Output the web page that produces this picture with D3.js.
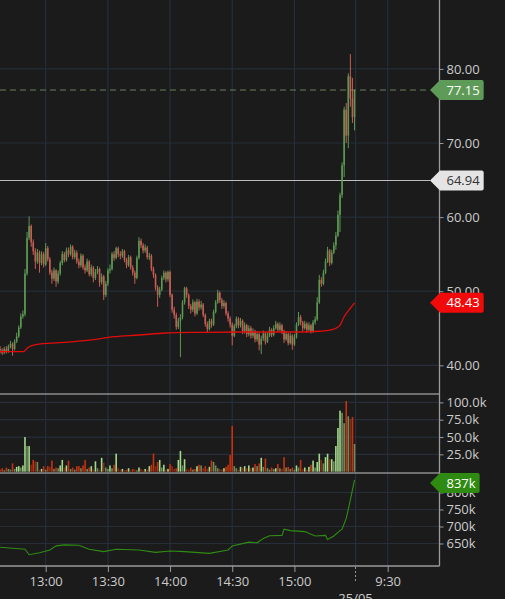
<!DOCTYPE html>
<html>
<head>
<meta charset="utf-8">
<script src="https://cdn.jsdelivr.net/npm/d3@7"></script>
<style>
  html, body { margin: 0; padding: 0; background: #1b1b1b; overflow: hidden; }
  svg { display: block; }
  text { font-family: "Open Sans", sans-serif; font-size: 13px; }
</style>
</head>
<body>
<div id="chart"></div>
<script>
// session info
var sessionStart = "12:38", nextSessionOpen = "9:15", emptySlots = 41;
var timeTicks = ["13:00", "13:30", "14:00", "14:30", "15:00", "9:30"];
var dayLabel = "25/05";

// 1-minute candles from 12:38 to 15:29 (open = previous close)
var firstOpen = 42.2;
var closes = [
  42.0,41.7,42.2,41.9,42.5,42.9,42.2,43.2,43.9,45.1,
  46.6,46.9,52.4,57.2,58.8,56.6,55.4,54.0,55.2,53.8,
  55.0,53.6,55.8,54.3,52.5,51.7,52.8,51.3,52.4,53.8,
  55.0,54.2,55.5,55.0,56.0,54.6,55.2,54.0,53.5,54.8,
  53.2,52.8,54.0,52.3,53.2,51.8,52.6,53.0,51.2,52.0,
  49.5,51.0,52.8,53.0,55.0,54.5,55.8,55.0,54.8,55.4,
  54.2,53.5,54.6,53.2,52.5,51.8,54.5,56.8,56.2,55.5,
  55.9,54.6,54.8,53.0,52.2,50.5,49.5,50.2,51.8,52.5,
  51.6,52.6,49.5,47.5,46.8,45.2,46.0,46.5,48.5,50.4,
  49.5,48.0,47.5,48.5,47.0,48.6,47.8,48.2,46.8,45.6,
  44.9,46.0,45.5,47.2,48.5,49.8,48.8,48.0,48.4,47.0,
  46.3,45.5,44.0,45.3,46.3,45.4,46.0,44.6,45.4,44.2,
  45.0,44.0,44.6,43.5,44.2,42.8,43.6,44.3,43.2,44.0,
  44.8,44.1,45.0,45.6,44.8,45.4,44.6,43.5,44.2,43.0,
  44.0,42.8,43.8,45.5,46.5,45.8,45.0,45.6,44.8,45.4,
  44.6,45.8,46.2,48.5,51.5,51.0,52.5,54.0,55.5,53.8,
  55.2,56.2,57.5,60.3,63.0,67.0,74.5,71.0,79.0,76.0,
  73.5,77.15
];
var highs = [
  42.6,42.3,42.5,42.6,42.8,43.3,43.1,43.5,44.4,45.4,
  47.0,47.4,53.0,58.0,60.1,59.0,57.0,55.8,55.7,55.5,
  55.4,55.3,56.5,56.1,54.6,52.9,53.2,53.0,52.8,54.1,
  55.4,55.3,55.9,55.9,56.3,56.2,55.6,55.5,54.4,55.1,
  55.0,53.6,54.4,54.2,53.6,53.4,53.0,53.4,53.2,52.4,
  52.2,51.4,53.1,53.6,55.3,55.4,56.0,56.0,55.4,55.7,
  55.6,54.5,54.9,54.8,53.5,52.8,54.8,57.3,57.1,56.5,
  56.3,56.1,55.2,55.0,53.3,52.4,50.8,50.6,52.1,52.8,
  52.7,52.8,52.8,49.7,47.9,47.1,46.4,46.9,48.8,50.6,
  50.6,49.7,48.3,48.9,48.7,49.0,48.9,48.7,48.4,47.0,
  45.9,46.3,46.3,47.5,48.8,50.2,50.0,49.1,48.8,48.6,
  47.3,46.6,45.8,45.6,46.6,46.5,46.4,46.2,45.8,45.6,
  45.4,45.3,45.0,44.8,44.6,44.4,44.0,44.7,44.5,44.4,
  45.2,45.0,45.4,46.0,45.8,45.8,45.6,44.8,44.6,44.4,
  44.4,44.2,44.2,45.8,47.2,46.8,46.0,46.0,45.8,45.8,
  45.6,46.1,46.6,49.2,52.2,51.9,52.9,54.4,56.0,55.7,
  55.6,56.6,58.0,60.9,63.3,67.4,74.9,75.4,79.4,82.0,
  78.8,77.2
];
var lows = [
  41.6,41.4,41.5,41.6,41.7,42.3,41.3,42.0,43.0,43.7,
  44.9,46.3,46.6,52.1,56.9,56.0,54.9,53.0,53.7,52.5,
  53.5,53.2,53.4,54.0,52.2,51.0,51.4,50.6,51.0,52.1,
  53.5,53.9,54.0,54.6,54.8,54.3,54.3,53.7,53.1,53.2,
  52.9,52.4,52.6,52.0,52.0,51.2,51.5,52.3,50.6,50.9,
  48.8,49.2,50.7,52.4,52.8,54.1,54.3,54.6,54.3,54.5,
  53.9,53.1,53.3,52.9,52.1,51.0,51.6,54.3,55.8,55.1,
  55.2,54.3,54.2,52.7,51.8,50.1,47.9,49.1,50.0,51.5,
  51.2,51.3,49.2,47.1,46.3,44.8,44.9,41.1,46.2,48.2,
  49.1,47.6,47.0,47.2,46.6,46.8,47.4,47.5,46.5,45.2,
  44.5,44.7,45.1,45.3,47.0,48.3,48.4,47.6,47.7,46.7,
  45.9,45.1,42.7,43.8,45.0,45.0,45.1,44.2,44.3,43.8,
  43.9,43.6,43.7,43.1,43.2,42.0,41.5,43.3,42.8,43.0,
  43.8,43.8,43.9,44.8,44.5,44.6,44.2,43.0,43.3,42.7,
  42.8,42.1,42.6,43.6,45.3,45.4,44.6,44.8,44.4,44.6,
  44.3,44.4,45.5,46.0,48.3,50.6,50.8,52.3,53.8,53.4,
  53.6,55.0,55.6,57.3,58.0,62.6,65.4,70.0,69.3,74.9,
  72.7,71.7
];
// volume in thousands
var volumes = [
  3,5,2,6,4,3,12,4,7,8,
  6,9,50,37,37,10,17,15,14,3,
  4,8,3,8,7,16,4,6,5,9,
  17,6,9,16,4,6,3,8,8,5,
  9,17,4,6,8,3,15,5,3,20,
  13,6,4,9,5,10,26,5,3,4,
  2,3,5,2,4,3,2,6,4,2,
  4,3,8,10,26,8,14,17,6,10,
  3,4,11,8,4,5,17,30,9,18,
  4,3,6,3,4,8,10,9,5,8,
  4,7,16,14,9,5,4,3,5,7,
  10,24,66,8,5,3,7,6,8,5,
  9,5,6,11,8,12,20,7,19,5,
  3,6,4,5,11,5,4,21,6,7,
  4,6,3,9,6,17,4,6,3,7,
  10,16,6,14,26,17,12,21,26,18,
  18,15,37,63,88,85,70,102,80,76,
  79,40
];
// vwap (read at some candles)
var vwapIdx  = [0, 11, 12, 13, 14, 18, 29, 43, 55, 67, 80, 96, 116, 145, 154, 159, 162, 164, 166, 169, 171];
var vwapVals = [41.84, 41.84, 42.0, 42.3, 42.5, 42.83, 43.05, 43.4, 43.86, 44.09, 44.36, 44.45, 44.5, 44.5, 44.6, 44.75, 45.0, 45.44, 46.56, 47.7, 48.43];
// lower study in thousands
var obvIdx  = [0, 12, 14, 19, 24, 27, 31, 38, 43, 50, 56, 67, 75, 82, 89, 101, 110, 112, 120, 124, 127, 130, 136, 137, 140, 147, 152, 157, 158, 161, 164, 165, 167, 169, 171];
var obvVals = [639, 633, 617, 623, 631, 643, 646, 645, 633, 626, 633, 631, 624, 628, 626, 621, 631, 643, 654, 652, 665, 673, 674, 692, 688, 685, 672, 674, 662, 672, 688, 692, 724, 778, 837];

var priceTicks = [40, 50, 60, 70, 80];
var volTicks = [25, 50, 75, 100];
var obvTicks = [650, 700, 750, 800];
var refPrice = 64.94;

var width = 505, height = 599;
var plotW = 439.5;
var pTop = 0, pBot = 394, vBot = 473, oBot = 566;

var n = closes.length;
function toMin(t) { var p = t.split(":"); return +p[0] * 60 + +p[1]; }
function slot(t) {
  var m = toMin(t);
  return m >= 12 * 60 ? m - toMin(sessionStart) : n + m - toMin(nextSessionOpen);
}

var candles = closes.map(function (c, i) {
  return { i: i, o: i ? closes[i - 1] : firstOpen, h: highs[i], l: lows[i], c: c, v: volumes[i] };
});

var x = d3.scaleLinear().domain([0, n + emptySlots - 1]).range([0.1, plotW]);
var yP = d3.scaleLinear().domain([36.13, 89.3]).range([pBot, pTop]);
var yV = d3.scaleLinear().domain([0, 112.1]).range([471.7, pBot]);
var yO = d3.scaleLinear().domain([583.8, 857.4]).range([oBot, vBot]);

var svg = d3.select("#chart").append("svg")
  .attr("width", width).attr("height", height);

svg.append("rect").attr("width", width).attr("height", height).attr("fill", "#1b1b1b");

var defs = svg.append("defs");
[["clipP", pTop, pBot], ["clipV", pBot, vBot], ["clipO", vBot, oBot]].forEach(function (c) {
  defs.append("clipPath").attr("id", c[0]).append("rect")
    .attr("x", 0).attr("y", c[1]).attr("width", plotW).attr("height", c[2] - c[1]);
});

var gridColor = "#252e39";
var tickIdx = timeTicks.map(slot);
var breakIdx = n - 0.5;

// grid
var grid = svg.append("g");
tickIdx.concat([breakIdx]).forEach(function (d) {
  grid.append("line").attr("x1", x(d)).attr("x2", x(d)).attr("y1", 0).attr("y2", oBot)
    .attr("stroke", gridColor).attr("stroke-width", 1.2);
});
priceTicks.forEach(function (d) {
  grid.append("line").attr("x1", 0).attr("x2", plotW).attr("y1", yP(d)).attr("y2", yP(d))
    .attr("stroke", gridColor).attr("stroke-width", 1.2);
});
volTicks.forEach(function (d) {
  grid.append("line").attr("x1", 0).attr("x2", plotW).attr("y1", yV(d)).attr("y2", yV(d))
    .attr("stroke", gridColor).attr("stroke-width", 1.2);
});
obvTicks.forEach(function (d) {
  grid.append("line").attr("x1", 0).attr("x2", plotW).attr("y1", yO(d)).attr("y2", yO(d))
    .attr("stroke", gridColor).attr("stroke-width", 1.2);
});

// price panel
var pg = svg.append("g").attr("clip-path", "url(#clipP)");
var last = candles[n - 1];

pg.append("line").attr("x1", 0).attr("x2", 430).attr("y1", yP(refPrice)).attr("y2", yP(refPrice))
  .attr("stroke", "#bdbdbd").attr("stroke-width", 1);
pg.append("line").attr("x1", 0).attr("x2", 430).attr("y1", yP(last.c)).attr("y2", yP(last.c))
  .attr("stroke", "#66805e").attr("stroke-width", 1).attr("stroke-dasharray", "6,4");

var up = "#63a659", down = "#dc655b";
var cg = pg.selectAll(".candle").data(candles).enter().append("g").attr("class", "candle")
  .attr("opacity", 0.9);
cg.append("line")
  .attr("x1", function (d) { return x(d.i); }).attr("x2", function (d) { return x(d.i); })
  .attr("y1", function (d) { return yP(d.h); }).attr("y2", function (d) { return yP(d.l); })
  .attr("stroke", function (d) { return d.c >= d.o ? up : down; }).attr("stroke-width", 1);
cg.append("rect")
  .attr("x", function (d) { return x(d.i) - 0.8; })
  .attr("width", 1.6)
  .attr("y", function (d) { return yP(Math.max(d.o, d.c)); })
  .attr("height", function (d) { return Math.max(1, Math.abs(yP(d.o) - yP(d.c))); })
  .attr("fill", function (d) { return d.c >= d.o ? up : down; });

var vwapLine = d3.line()
  .x(function (d) { return x(d[0]); })
  .y(function (d) { return yP(d[1]); })
  .curve(d3.curveMonotoneX);
pg.append("path").datum(d3.zip(vwapIdx, vwapVals)).attr("d", vwapLine)
  .attr("fill", "none").attr("stroke", "#e00c0c").attr("stroke-width", 1.3);

// volume panel
var vg = svg.append("g").attr("clip-path", "url(#clipV)");
vg.selectAll(".vol").data(candles).enter().append("rect").attr("class", "vol")
  .attr("x", function (d) { return x(d.i) - 0.8; })
  .attr("width", 1.6)
  .attr("y", function (d) { return yV(d.v); })
  .attr("height", function (d) { return yV(0) - yV(d.v); })
  .attr("fill", function (d, i) {
    var rising = i === 0 || d.v >= volumes[i - 1];
    if (d.c >= d.o) return rising ? "#a3d98a" : "#6f8c5e";
    return rising ? "#c6320f" : "#8c2a12";
  });

// lower study panel
var og = svg.append("g").attr("clip-path", "url(#clipO)");
og.append("path").datum(d3.zip(obvIdx, obvVals))
  .attr("d", d3.line().x(function (d) { return x(d[0]); }).y(function (d) { return yO(d[1]); }))
  .attr("fill", "none").attr("stroke", "#2f8c14").attr("stroke-width", 1.1);

// frame lines
var frame = "#8c8c8c";
[pBot, vBot].forEach(function (y) {
  svg.append("line").attr("x1", 0).attr("x2", plotW).attr("y1", y).attr("y2", y)
    .attr("stroke", frame).attr("stroke-width", 1.3);
});
svg.append("line").attr("x1", 0).attr("x2", plotW).attr("y1", oBot).attr("y2", oBot)
  .attr("stroke", "#9a9a9a").attr("stroke-width", 1.3);
svg.append("line").attr("x1", plotW).attr("x2", plotW).attr("y1", 0).attr("y2", oBot)
  .attr("stroke", "#9a9a9a").attr("stroke-width", 1.3);

// axes
function styleAxis(g) {
  g.select(".domain").remove();
  g.selectAll(".tick line").attr("stroke", "#9a9a9a");
  g.selectAll(".tick text").attr("fill", "#cbcbcb")
    .style("font-family", '"Open Sans", sans-serif').style("font-size", "13px");
}
svg.append("g").attr("transform", "translate(" + plotW + ",0)")
  .call(d3.axisRight(yP).tickValues(priceTicks).tickFormat(d3.format(".2f")).tickSize(4).tickPadding(3))
  .call(styleAxis);
svg.append("g").attr("transform", "translate(" + plotW + ",0)")
  .call(d3.axisRight(yV).tickValues(volTicks).tickFormat(function (d) { return d3.format(".1f")(d) + "k"; }).tickSize(4).tickPadding(3))
  .call(styleAxis);
svg.append("g").attr("transform", "translate(" + plotW + ",0)")
  .call(d3.axisRight(yO).tickValues(obvTicks).tickFormat(function (d) { return d + "k"; }).tickSize(4).tickPadding(3))
  .call(styleAxis);
svg.append("g").attr("transform", "translate(0," + oBot + ")")
  .call(d3.axisBottom(x).tickValues(tickIdx).tickFormat(function (d, i) { return timeTicks[i]; }).tickSize(6).tickPadding(5))
  .call(styleAxis);

// day break marker
svg.append("line").attr("x1", x(breakIdx)).attr("x2", x(breakIdx)).attr("y1", oBot + 1).attr("y2", oBot + 15)
  .attr("stroke", "#9a9a9a").attr("stroke-dasharray", "2,2");
svg.append("text").attr("x", x(breakIdx)).attr("y", oBot + 37).attr("text-anchor", "middle")
  .attr("fill", "#cbcbcb").text(dayLabel);

// value tags
function tag(cy, label, fill, color) {
  var g = svg.append("g");
  var t = g.append("text").attr("x", 446.5).attr("y", cy).attr("dy", "0.35em")
    .attr("fill", color).text(label);
  var r = 446.5 + t.node().getComputedTextLength() + 4;
  g.insert("path", "text")
    .attr("d", "M430," + cy + " L440," + (cy - 10) + " H" + (r - 2) + " Q" + r + "," + (cy - 10) + " " + r + "," + (cy - 8) +
      " V" + (cy + 8) + " Q" + r + "," + (cy + 10) + " " + (r - 2) + "," + (cy + 10) + " H440 Z")
    .attr("fill", fill);
}
tag(yP(last.c), d3.format(".2f")(last.c), "#5e9a58", "#ffffff");
tag(yP(refPrice), d3.format(".2f")(refPrice), "#e4e4e4", "#333333");
tag(yP(vwapVals[vwapVals.length - 1]), d3.format(".2f")(vwapVals[vwapVals.length - 1]), "#f00a0a", "#ffffff");
var lastObv = obvVals[obvVals.length - 1];
tag(Math.max(yO(lastObv), vBot + 10), lastObv + "k", "#2f8a12", "#ffffff");
</script>
</body>
</html>
